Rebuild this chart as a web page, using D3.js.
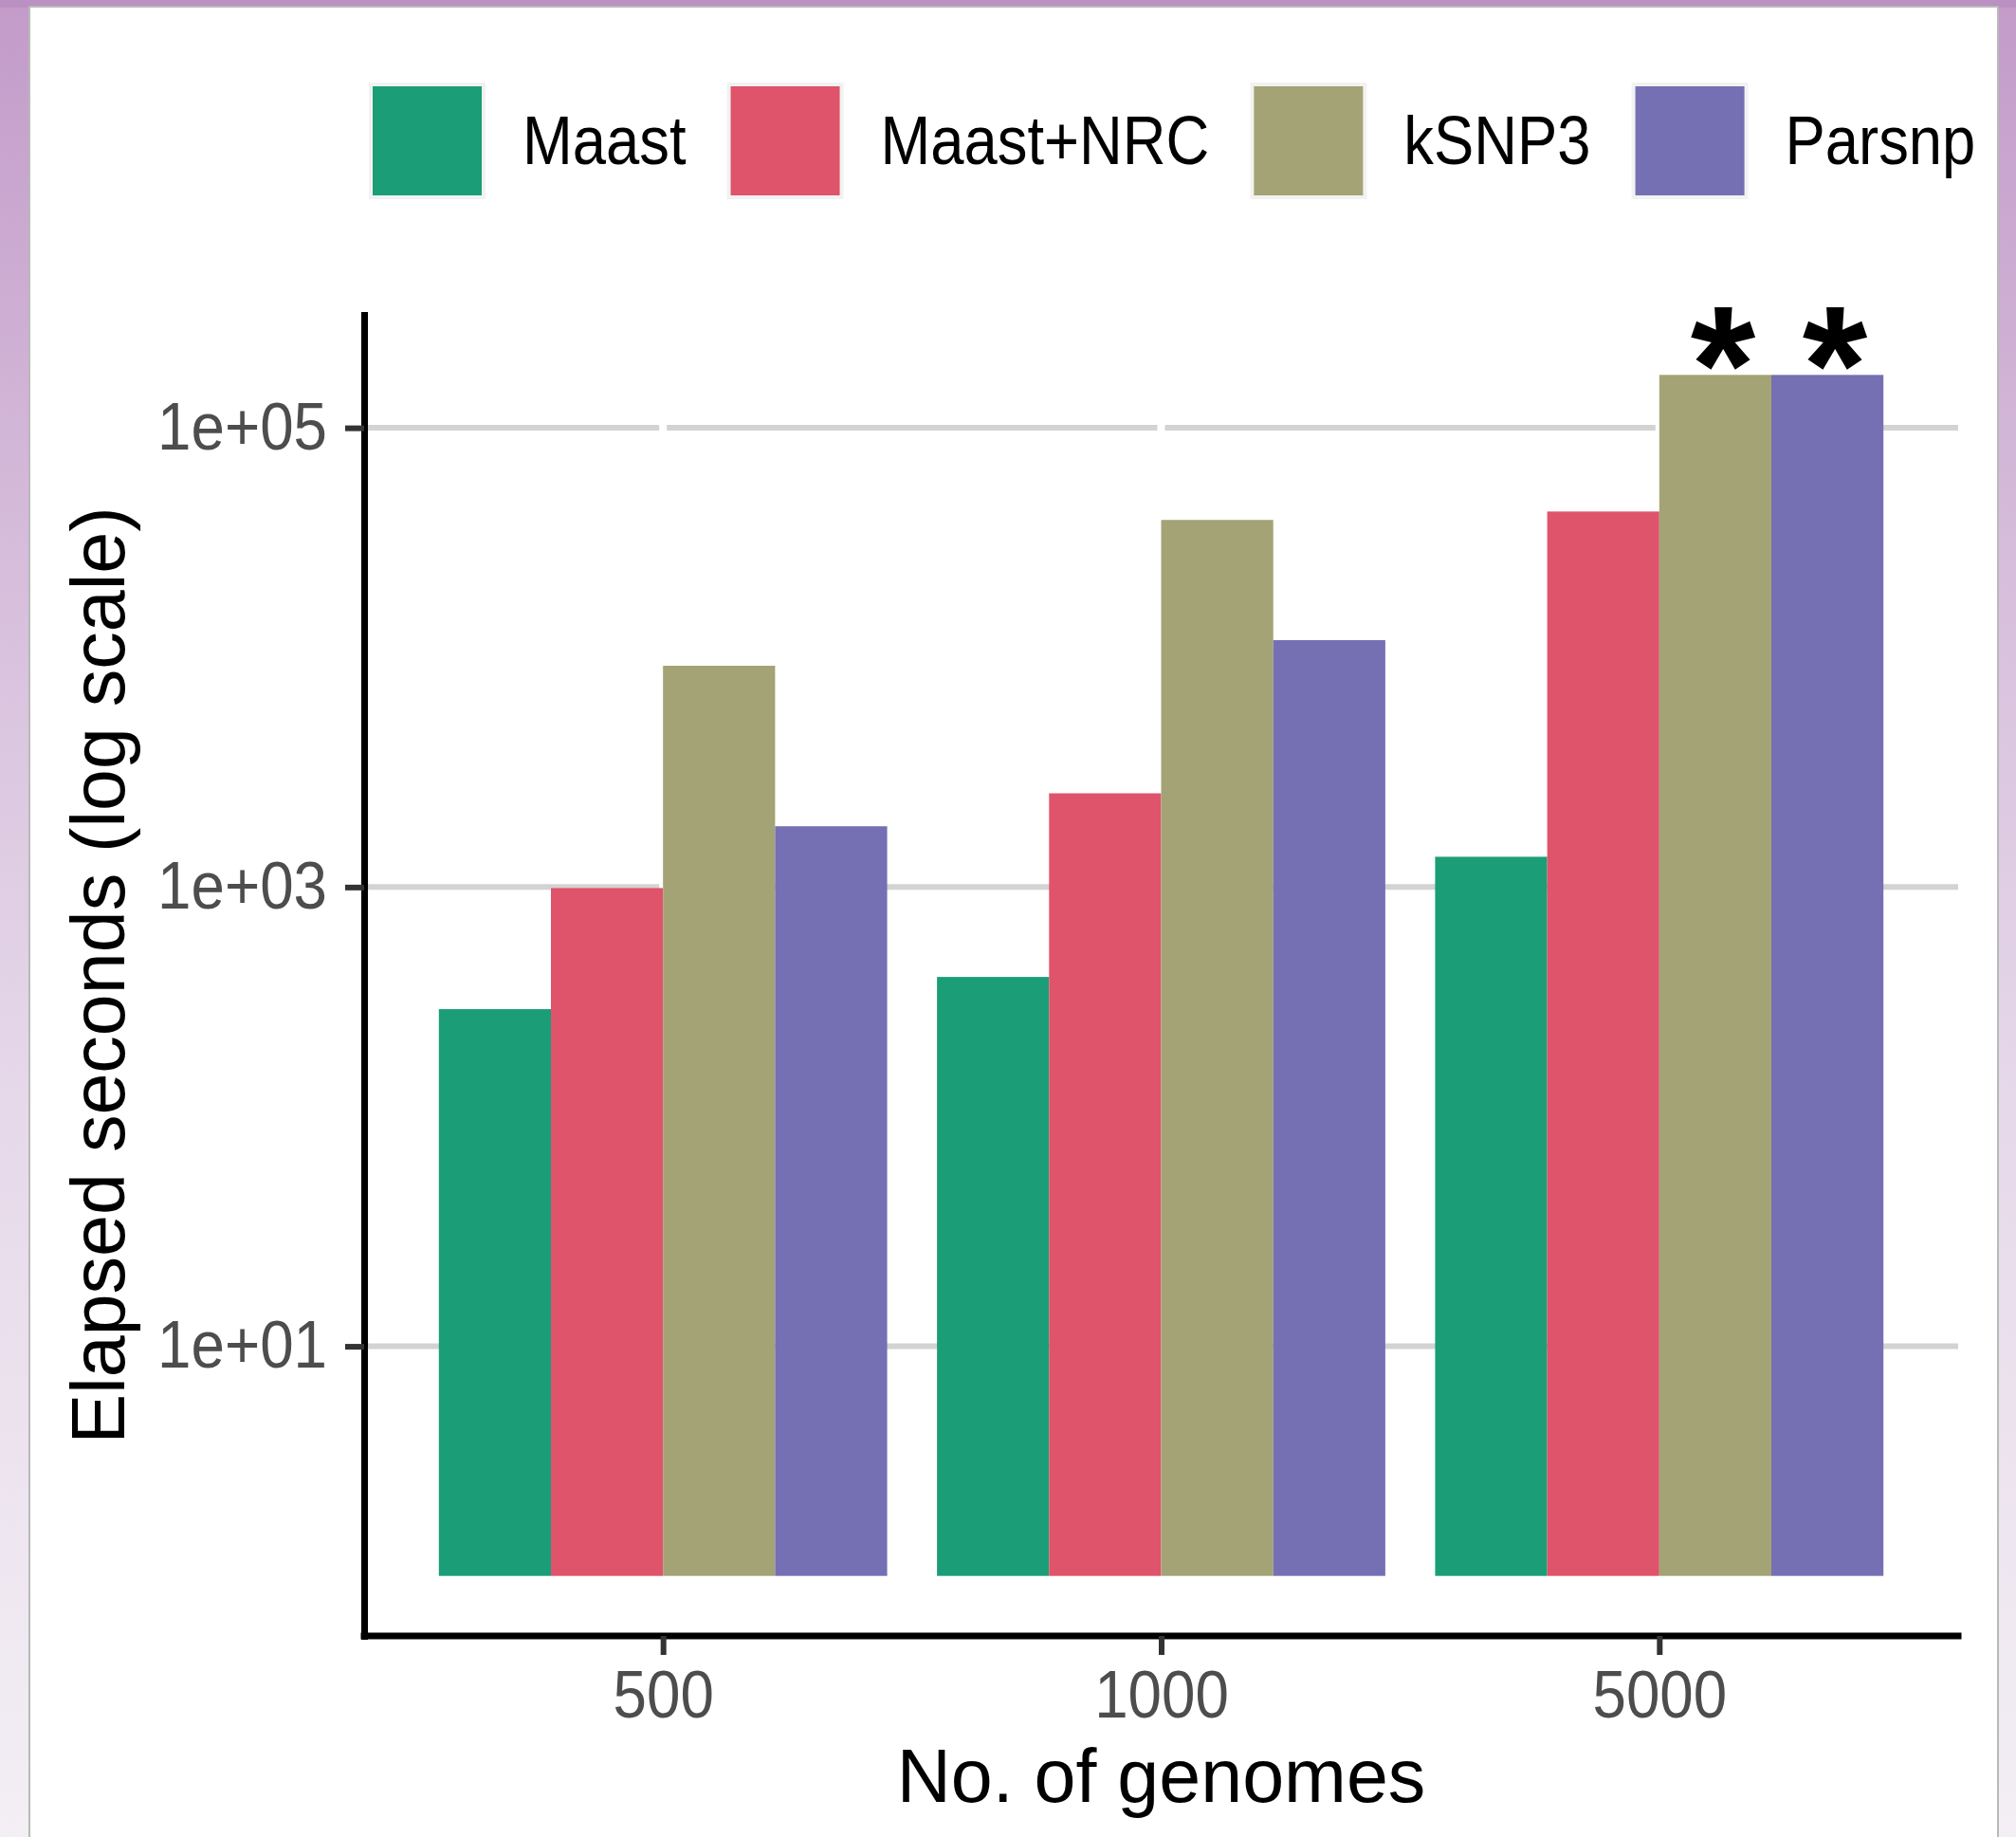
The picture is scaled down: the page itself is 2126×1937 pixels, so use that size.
<!DOCTYPE html>
<html>
<head>
<meta charset="utf-8">
<script src="https://cdn.jsdelivr.net/npm/d3@7"></script>
<style>
  body { margin: 0; background: #fff; }
  svg { display: block; }
</style>
</head>
<body>
<svg id="chart"></svg>
<script>
// data (elapsed seconds)
const sizes = ["500", "1000", "5000"];
const methods = ["Maast", "Maast+NRC", "kSNP3", "Parsnp"];
const maast = [294, 406, 1355];
const maastNrc = [990, 2560, 43200];
const ksnp3 = [9200, 39700, 170000];
const parsnp = [1840, 11900, 170000];
const yTicks = [10, 1000, 100000];
const yTickLabels = ["1e+01", "1e+03", "1e+05"];
const flagged = [["5000", "kSNP3"], ["5000", "Parsnp"]]; // marked with *
const colors = ["#1B9E77", "#DF536B", "#A3A375", "#7570B3"];

const series = [maast, maastNrc, ksnp3, parsnp];
const rows = [];
sizes.forEach((s, i) => methods.forEach((m, j) => rows.push({size: s, method: m, value: series[j][i]})));

const W = 2126, H = 1937;
const margin = {top: 332, right: 61, bottom: 212, left: 384};
const width = W - margin.left - margin.right,
      height = H - margin.top - margin.bottom;
const FONT = '"Liberation Sans", Arial, sans-serif';

// the original text is a bit narrower than Arial, squeeze it
function squeeze(sel, k) {
  sel.each(function() {
    const len = this.getComputedTextLength();
    d3.select(this).attr('textLength', len * k).attr('lengthAdjust', 'spacingAndGlyphs');
  });
}

const svg = d3.select('#chart').attr('width', W).attr('height', H);

// backdrop behind the white card
const defs = svg.append('defs');
const grad = defs.append('linearGradient').attr('id', 'bg')
  .attr('x1', 0).attr('y1', 0).attr('x2', 0).attr('y2', 1);
grad.append('stop').attr('offset', '0%').attr('stop-color', '#c39bc9');
grad.append('stop').attr('offset', '30%').attr('stop-color', '#d6bddb');
grad.append('stop').attr('offset', '60%').attr('stop-color', '#e6d9ea');
grad.append('stop').attr('offset', '100%').attr('stop-color', '#f3eff4');
svg.append('rect').attr('width', W).attr('height', H).attr('fill', 'url(#bg)');
svg.append('rect').attr('width', W).attr('height', 8).attr('fill', '#bb90c2');
svg.append('rect')
  .attr('x', 31).attr('y', 7).attr('width', 2107 - 31).attr('height', H)
  .attr('fill', '#fff').attr('stroke', '#b9b9b9').attr('stroke-width', 2);

const g = svg.append('g').attr('transform', `translate(${margin.left},${margin.top})`);

// scales
const x = d3.scalePoint().domain(sizes).range([0, width]).padding(0.6);
const step = x.step();
const xInner = d3.scaleBand().domain(methods).range([-0.45 * step, 0.45 * step]);
const color = d3.scaleOrdinal().domain(methods).range(colors);

const maxLog = Math.log10(d3.max(rows, d => d.value));
const pad = 0.05 * maxLog;
const y = d3.scaleLog()
  .domain([Math.pow(10, -pad), Math.pow(10, maxLog + pad)])
  .range([height, 0]);

// grid
g.append('g').selectAll('line').data(yTicks).enter().append('line')
  .attr('x1', 0).attr('x2', width)
  .attr('y1', d => y(d)).attr('y2', d => y(d))
  .attr('stroke', '#d3d3d3').attr('stroke-width', 6);
g.append('g').selectAll('line').data(sizes).enter().append('line')
  .attr('x1', d => x(d)).attr('x2', d => x(d))
  .attr('y1', 0).attr('y2', height)
  .attr('stroke', '#fff').attr('stroke-width', 8);

// bars
g.append('g').selectAll('rect').data(rows).enter().append('rect')
  .attr('x', d => x(d.size) + xInner(d.method))
  .attr('width', xInner.bandwidth())
  .attr('y', d => y(d.value))
  .attr('height', d => y(1) - y(d.value))
  .attr('fill', d => color(d.method));

// asterisks
g.append('g').selectAll('text').data(flagged).enter().append('text')
  .attr('x', d => x(d[0]) + xInner(d[1]) + xInner.bandwidth() / 2 + 8)
  .attr('y', d => y(rows.find(r => r.size === d[0] && r.method === d[1]).value) + 50)
  .attr('text-anchor', 'middle')
  .style('font', `bold 176px ${FONT}`)
  .text('*');

// axes
const yAxis = g.append('g')
  .call(d3.axisLeft(y).tickValues(yTicks).tickFormat((d, i) => yTickLabels[i])
    .tickSize(20).tickSizeOuter(0).tickPadding(19));
const xAxis = g.append('g').attr('transform', `translate(0,${height})`)
  .call(d3.axisBottom(x).tickSize(20).tickSizeOuter(0).tickPadding(16));
xAxis.select('.domain').attr('d', `M0,0H${width}`);

[xAxis, yAxis].forEach(a => {
  a.select('.domain').attr('stroke', '#000').attr('stroke-width', 7).attr('stroke-linecap', 'square');
  a.selectAll('.tick line').attr('stroke', '#333').attr('stroke-width', 6);
  a.selectAll('.tick text').attr('fill', '#4d4d4d')
    .style('font-family', FONT).style('font-size', '70px')
    .call(squeeze, 0.91);
});

// axis titles
svg.append('text')
  .attr('x', margin.left + width / 2).attr('y', 1900)
  .attr('text-anchor', 'middle')
  .style('font', `79px ${FONT}`)
  .text('No. of genomes');
svg.append('text')
  .attr('transform', `translate(131,${margin.top + height / 2}) rotate(-90)`)
  .attr('text-anchor', 'middle')
  .style('font', `79px ${FONT}`)
  .text('Elapsed seconds (log scale)');

// legend on top
const legend = svg.append('g').attr('transform', 'translate(393,91)');
let lx = 0;
methods.forEach(m => {
  const item = legend.append('g').attr('transform', `translate(${lx},0)`);
  item.append('rect').attr('x', -4).attr('y', -4).attr('width', 123).attr('height', 123).attr('fill', '#f2f2f2');
  item.append('rect').attr('width', 115).attr('height', 115).attr('fill', color(m));
  const t = item.append('text').attr('x', 158).attr('y', 82)
    .style('font', `72px ${FONT}`)
    .text(m)
    .call(squeeze, 0.88);
  lx += 158 + (+t.attr('textLength')) + 47;
});
</script>
</body>
</html>
